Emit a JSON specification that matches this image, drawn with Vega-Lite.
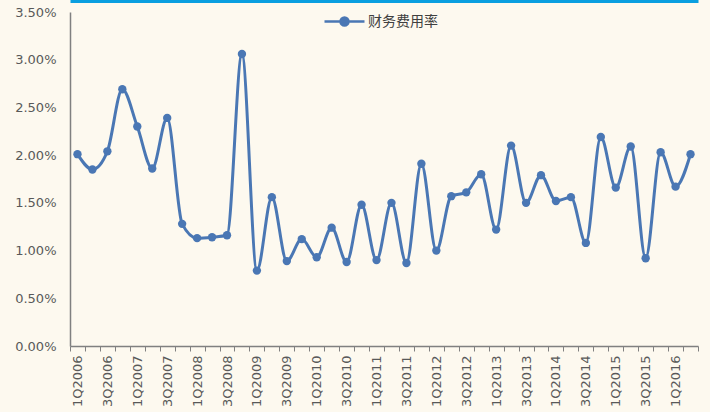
{
  "$schema": "https://vega.github.io/schema/vega-lite/v6.json",
  "width": 628,
  "height": 334,
  "autosize": {"type": "none"},
  "padding": {"left": 70, "top": 12, "right": 12, "bottom": 66},
  "background": "#fdf9ef",
  "config": {"view": {"stroke": null}, "font": "DejaVu Sans"},
  "data": {"values": [
    {"q": "1Q2006", "v": 0.0201, "s": "财务费用率"},
    {"q": "2Q2006", "v": 0.0185, "s": "财务费用率"},
    {"q": "3Q2006", "v": 0.0204, "s": "财务费用率"},
    {"q": "4Q2006", "v": 0.0269, "s": "财务费用率"},
    {"q": "1Q2007", "v": 0.0230, "s": "财务费用率"},
    {"q": "2Q2007", "v": 0.0186, "s": "财务费用率"},
    {"q": "3Q2007", "v": 0.0239, "s": "财务费用率"},
    {"q": "4Q2007", "v": 0.0128, "s": "财务费用率"},
    {"q": "1Q2008", "v": 0.0113, "s": "财务费用率"},
    {"q": "2Q2008", "v": 0.0114, "s": "财务费用率"},
    {"q": "3Q2008", "v": 0.0116, "s": "财务费用率"},
    {"q": "4Q2008", "v": 0.0306, "s": "财务费用率"},
    {"q": "1Q2009", "v": 0.0079, "s": "财务费用率"},
    {"q": "2Q2009", "v": 0.0156, "s": "财务费用率"},
    {"q": "3Q2009", "v": 0.0089, "s": "财务费用率"},
    {"q": "4Q2009", "v": 0.0112, "s": "财务费用率"},
    {"q": "1Q2010", "v": 0.0093, "s": "财务费用率"},
    {"q": "2Q2010", "v": 0.0124, "s": "财务费用率"},
    {"q": "3Q2010", "v": 0.0088, "s": "财务费用率"},
    {"q": "4Q2010", "v": 0.0148, "s": "财务费用率"},
    {"q": "1Q2011", "v": 0.0090, "s": "财务费用率"},
    {"q": "2Q2011", "v": 0.0150, "s": "财务费用率"},
    {"q": "3Q2011", "v": 0.0087, "s": "财务费用率"},
    {"q": "4Q2011", "v": 0.0191, "s": "财务费用率"},
    {"q": "1Q2012", "v": 0.0100, "s": "财务费用率"},
    {"q": "2Q2012", "v": 0.0157, "s": "财务费用率"},
    {"q": "3Q2012", "v": 0.0161, "s": "财务费用率"},
    {"q": "4Q2012", "v": 0.0180, "s": "财务费用率"},
    {"q": "1Q2013", "v": 0.0122, "s": "财务费用率"},
    {"q": "2Q2013", "v": 0.0210, "s": "财务费用率"},
    {"q": "3Q2013", "v": 0.0150, "s": "财务费用率"},
    {"q": "4Q2013", "v": 0.0179, "s": "财务费用率"},
    {"q": "1Q2014", "v": 0.0152, "s": "财务费用率"},
    {"q": "2Q2014", "v": 0.0156, "s": "财务费用率"},
    {"q": "3Q2014", "v": 0.0108, "s": "财务费用率"},
    {"q": "4Q2014", "v": 0.0219, "s": "财务费用率"},
    {"q": "1Q2015", "v": 0.0166, "s": "财务费用率"},
    {"q": "2Q2015", "v": 0.0209, "s": "财务费用率"},
    {"q": "3Q2015", "v": 0.0092, "s": "财务费用率"},
    {"q": "4Q2015", "v": 0.0203, "s": "财务费用率"},
    {"q": "1Q2016", "v": 0.0167, "s": "财务费用率"},
    {"q": "2Q2016", "v": 0.0201, "s": "财务费用率"}
  ]},
  "layer": [
    {
      "mark": {"type": "line", "interpolate": "monotone", "strokeWidth": 3, "point": {"filled": true, "size": 70}},
      "encoding": {
        "x": {
          "field": "q", "type": "ordinal", "sort": null, "bandPosition": 0.5,
          "scale": {"type": "band", "paddingInner": 0, "paddingOuter": 0},
          "axis": {
            "title": null, "labelAngle": 270, "labelOverlap": false,
            "labelExpr": "test(/^[13]Q/, datum.value) ? datum.value : ''",
            "labelFontSize": 13, "labelColor": "#595959", "labelPadding": 4,
            "tickBand": "extent", "tickSize": 5, "tickColor": "#808080", "tickWidth": 1,
            "domainColor": "#808080", "domainWidth": 1.5
          }
        },
        "y": {
          "field": "v", "type": "quantitative",
          "scale": {"domain": [0, 0.035], "nice": false},
          "axis": {
            "title": null, "format": ".2%", "grid": false, "ticks": false,
            "values": [0, 0.005, 0.01, 0.015, 0.02, 0.025, 0.03, 0.035],
            "labelFontSize": 13, "labelColor": "#595959", "labelPadding": 14,
            "domainColor": "#808080", "domainWidth": 1.5
          }
        },
        "color": {
          "field": "s", "type": "nominal",
          "scale": {"range": ["#4a77b4"]},
          "legend": {
            "title": null, "orient": "none", "legendX": 253, "legendY": -12,
            "symbolType": "M-1,0L1,0M-0.2,0A0.2,0.2,0,1,0,0.2,0A0.2,0.2,0,1,0,-0.2,0Z",
            "symbolSize": 1600, "symbolStrokeWidth": 2.5,
            "labelFont": "Noto Sans CJK SC", "labelFontSize": 14, "labelColor": "#404040",
            "labelOffset": 2,
            "encode": {"symbols": {"update": {"fill": {"value": "#4a77b4"}, "stroke": {"value": "#4a77b4"}}}}
          }
        }
      }
    },
    {
      "mark": {"type": "line", "opacity": 0},
      "encoding": {
        "x": {
          "field": "q", "type": "ordinal", "sort": null, "bandPosition": 0.5,
          "axis": {"orient": "top", "title": null, "labels": false, "ticks": false,
                   "domainColor": "#0a9fe0", "domainWidth": 3, "offset": 11}
        },
        "y": {"field": "v", "type": "quantitative"}
      }
    }
  ],
  "resolve": {"axis": {"x": "independent"}}
}
